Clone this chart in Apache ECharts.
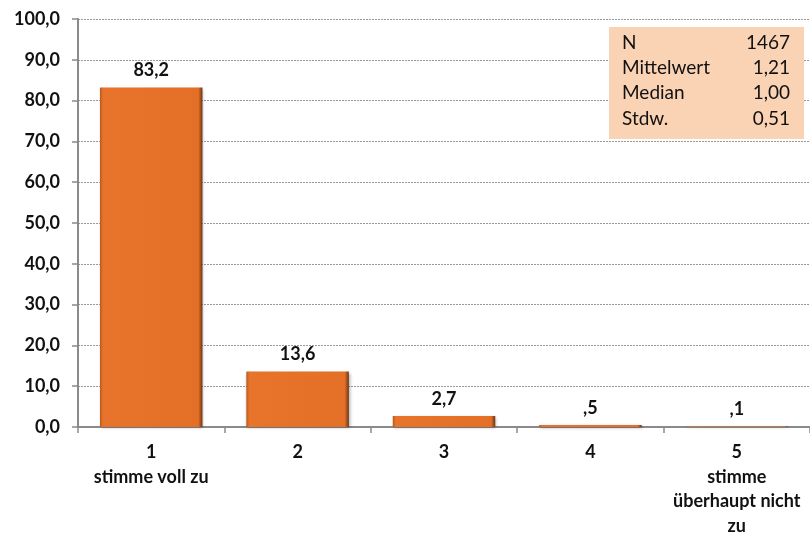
<!DOCTYPE html>
<html><head><meta charset="utf-8">
<script src="https://cdn.jsdelivr.net/npm/echarts@6/dist/echarts.min.js"></script>
<style>html,body{margin:0;padding:0;background:#fff}#c{width:810px;height:539px}</style>
</head><body><div id="c"></div>
<script>
const categories = ['1\nstimme voll zu', '2', '3', '4', '5\nstimme\nüberhaupt nicht\nzu'];
const values = [83.2, 13.6, 2.7, 0.5, 0.1];
const yTicks = { min: 0, max: 100, interval: 10 };
const statLabels = ['N', 'Mittelwert', 'Median', 'Stdw.'];
const statValues = ['1467', '1,21', '1,00', '0,51'];

function fmtVal(v) {
  let s = v.toFixed(1).replace('.', ',');
  if (s.startsWith('0,')) s = s.substring(1);
  return s;
}
const FONT = 'Lato';
const chart = echarts.init(document.getElementById('c'));
const statGraphics = [{
  type: 'rect', left: 609, top: 27, shape: { width: 195, height: 112 },
  style: { fill: '#FAD3B5' }, z: 10
}];
statLabels.forEach((l, i) => {
  statGraphics.push({ type: 'text', left: 622, top: 33 + i * 25.3, z: 11,
    style: { text: l, fontFamily: FONT, fontSize: 19, fill: '#111' } });
  statGraphics.push({ type: 'text', right: 20, top: 33 + i * 25.3, z: 11,
    style: { text: statValues[i], fontFamily: FONT, fontSize: 19, fill: '#111', textAlign: 'right' } });
});
chart.setOption({
  animation: false,
  grid: { left: 78, right: 0, top: 19, bottom: 112, containLabel: false },
  xAxis: {
    type: 'category', data: categories,
    axisLine: { lineStyle: { color: '#8a8a8a', width: 2 } },
    axisTick: { show: true, length: 6, lineStyle: { color: '#8a8a8a', width: 1.5 } },
    axisLabel: { fontFamily: FONT, fontWeight: 'bold', fontSize: 18, color: '#111', lineHeight: 24.5, margin: 13, interval: 0 }
  },
  yAxis: {
    type: 'value', min: yTicks.min, max: yTicks.max, interval: yTicks.interval,
    axisLine: { show: true, lineStyle: { color: '#8a8a8a', width: 2 } },
    axisTick: { show: true, length: 6, lineStyle: { color: '#8a8a8a', width: 1.5 } },
    axisLabel: { fontFamily: FONT, fontWeight: 'bold', fontSize: 18, color: '#111', margin: 18,
      formatter: v => v.toFixed(1).replace('.', ',') },
    splitLine: { show: true, lineStyle: { color: '#999', type: [2, 1], width: 1 } }
  },
  series: [{
    type: 'bar', data: values, barCategoryGap: '30%',
    itemStyle: {
      color: { type: 'linear', x: 0, y: 0, x2: 1, y2: 0, colorStops: [
        { offset: 0, color: '#b85a1c' }, { offset: 0.03, color: '#e8742b' },
        { offset: 0.96, color: '#e46f27' }, { offset: 1, color: '#6e3512' }] },
      shadowColor: 'rgba(0,0,0,0.35)', shadowBlur: 3, shadowOffsetX: 1, shadowOffsetY: 1
    },
    label: { show: true, position: 'top', distance: 8, fontFamily: FONT, fontWeight: 'bold', fontSize: 18, color: '#111',
      formatter: p => fmtVal(p.value) }
  }],
  graphic: statGraphics
});
</script></body></html>
